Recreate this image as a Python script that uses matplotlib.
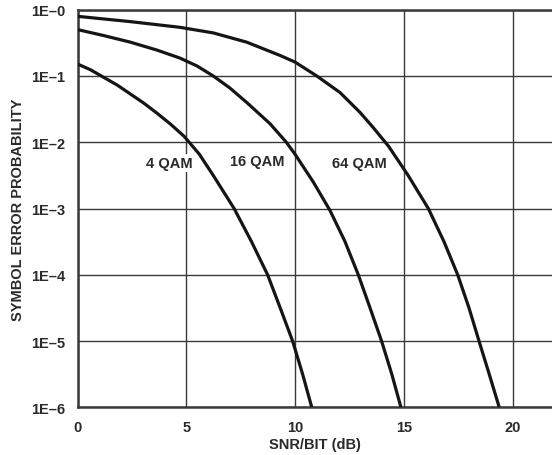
import matplotlib
matplotlib.use("Agg")
import matplotlib.pyplot as plt
import numpy as np

# Data (SNR/bit in dB, log10 of symbol error probability)
qam4_x = [0, 0.59, 1.20, 1.82, 2.43, 3.04, 3.66, 4.27, 4.9, 5.6, 6.24, 7.2, 8.0, 8.74, 9.32, 9.89, 10.35, 10.77]
qam4_logp = [-0.82, -0.905, -1.02, -1.136, -1.272, -1.408, -1.563, -1.725, -1.91, -2.18, -2.50, -3.0, -3.5, -4.0, -4.5, -5.0, -5.5, -6.0]

qam16_x = [0, 1.20, 2.43, 3.66, 4.71, 5.5, 6.24, 7.0, 7.78, 8.85, 9.6, 10.0, 10.84, 11.61, 12.3, 12.91, 13.45, 13.98, 14.45, 14.87]
qam16_logp = [-0.30, -0.39, -0.49, -0.61, -0.73, -0.85, -1.0, -1.18, -1.40, -1.72, -2.0, -2.18, -2.60, -3.03, -3.5, -4.0, -4.5, -5.0, -5.5, -6.0]

qam64_x = [0, 2.43, 4.71, 6.24, 7.78, 9.31, 10.0, 11.0, 12.07, 12.99, 13.6, 14.3, 15.2, 16.13, 16.85, 17.48, 18.0, 18.46, 18.93, 19.39]
qam64_logp = [-0.10, -0.18, -0.266, -0.35, -0.49, -0.69, -0.79, -1.0, -1.25, -1.55, -1.78, -2.06, -2.5, -3.0, -3.5, -4.0, -4.5, -5.0, -5.5, -6.0]

labels = ["4 QAM", "16 QAM", "64 QAM"]
label_x = [4.2, 8.25, 12.95]
label_logp = [-2.32, -2.29, -2.32]

x_ticks = [0, 5, 10, 15, 20]
y_ticks = [1, 1e-1, 1e-2, 1e-3, 1e-4, 1e-5, 1e-6]
y_ticklabels = ["1E\u20130", "1E\u20131", "1E\u20132", "1E\u20133", "1E\u20134", "1E\u20135", "1E\u20136"]

plt.rcParams['font.family'] = ['Liberation Sans', 'DejaVu Sans']
txt = '#2a2a2a'
gridc = '#3a3a3a'

fig = plt.figure(figsize=(5.52, 4.56), dpi=100)
ax = fig.add_axes([77.5 / 552, 1 - 408.3 / 456, 1 - 77.5 / 552, (408.3 - 10.7) / 456])

ax.set_yscale('log')
ax.set_xlim(0, (552 - 77.5) / 21.75)
ax.set_ylim(1e-6, 1)

for xs, lp in [(qam4_x, qam4_logp), (qam16_x, qam16_logp), (qam64_x, qam64_logp)]:
    ax.plot(xs, np.power(10.0, lp), color='#151515', lw=2.3, solid_joinstyle='round',
            solid_capstyle='butt', zorder=3)

ax.set_xticks(x_ticks)
ax.set_xticklabels([str(t) for t in x_ticks])
ax.set_yticks(y_ticks)
ax.set_yticklabels(y_ticklabels)
ax.yaxis.set_minor_locator(matplotlib.ticker.NullLocator())
ax.tick_params(axis='both', length=0, labelsize=10.5, colors=txt, pad=9)
for lbl in ax.get_xticklabels() + ax.get_yticklabels():
    lbl.set_fontweight('bold')

ax.grid(True, which='major', color=gridc, lw=1.0)
ax.set_axisbelow(True)

for s in ['left', 'bottom', 'top']:
    ax.spines[s].set_color('#3a3a3a')
    ax.spines[s].set_linewidth(1.8)
ax.spines['right'].set_visible(False)

for t, lx, lp in zip(labels, label_x, label_logp):
    ax.text(lx, 10.0 ** lp, t, ha='center', va='center', fontsize=10.5, fontweight='bold', color=txt,
            bbox=dict(facecolor='white', edgecolor='none', pad=1.5), zorder=4)

ax.set_xlabel("SNR/BIT (dB)", fontsize=10.5, fontweight='bold', color=txt, labelpad=2)
ax.set_ylabel("SYMBOL ERROR PROBABILITY", fontsize=10.5, fontweight='bold', color=txt, labelpad=4)

fig.savefig("out.png", dpi=100)
